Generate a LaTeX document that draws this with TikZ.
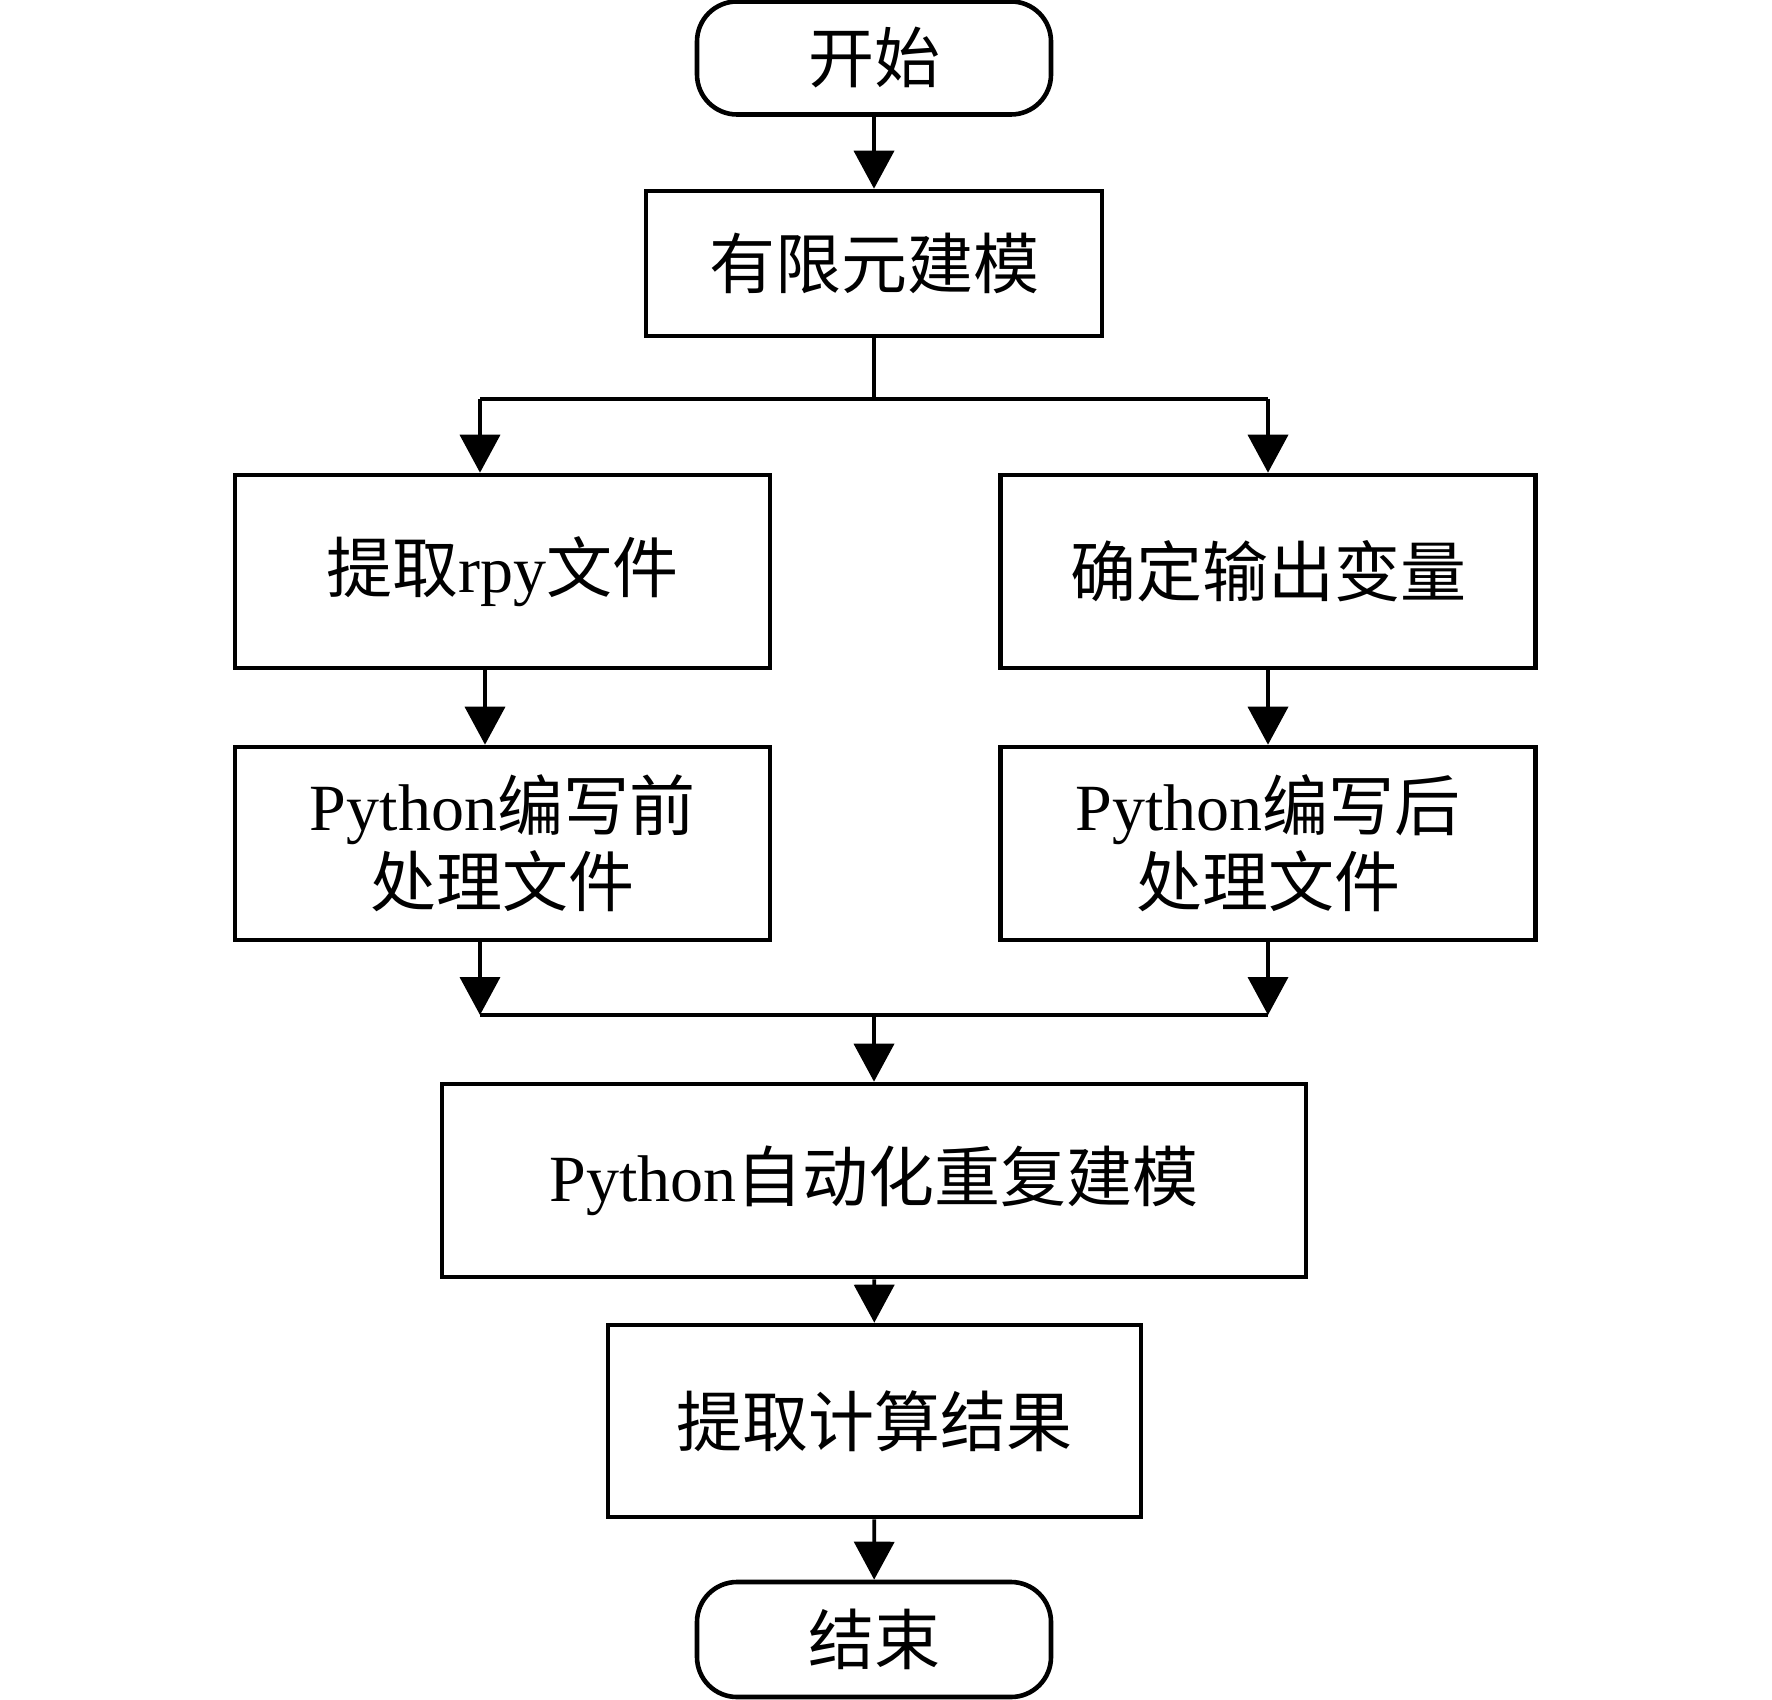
\documentclass[tikz,border=0pt]{standalone}
\usepackage{fontspec}
\setmainfont{Liberation Serif}
\newfontfamily\cjk{Noto Sans CJK SC}
\usetikzlibrary{arrows.meta}
\newcommand{\zh}[1]{{\cjk #1}}
\begin{document}
\begin{tikzpicture}[x=0.5pt,y=-0.5pt,
  box/.style={draw,line width=2.3pt,inner sep=0pt,align=center,
    font=\fontsize{33}{38}\selectfont},
  term/.style={box,rounded corners=20pt},
  conn/.style={line width=1.9pt},
  arr/.style={conn,-{Triangle[width=20pt,length=19pt]}}]
\useasboundingbox (0,0) rectangle (1772,1700);
\node[term,minimum width=177pt,minimum height=56.5pt] (start) at (874,58) {\zh{开始}};
\node[box,minimum width=228pt,minimum height=72.5pt] (fem) at (874,263.5) {\zh{有限元建模}};
\node[box,minimum width=267.5pt,minimum height=96.5pt] (rpy) at (502.5,571.5) {\zh{提取}rpy\zh{文件}};
\node[box,minimum width=267.5pt,minimum height=96.5pt] (out) at (1268,571.5) {\zh{确定输出变量}};
\node[box,minimum width=267.5pt,minimum height=96.5pt] (pre) at (502.5,843.5) {Python\zh{编写前}\\\zh{处理文件}};
\node[box,minimum width=267.5pt,minimum height=96.5pt] (post) at (1268,843.5) {Python\zh{编写后}\\\zh{处理文件}};
\node[box,minimum width=432pt,minimum height=96.5pt] (auto) at (874,1180.5) {Python\zh{自动化重复建模}};
\node[box,minimum width=266.5pt,minimum height=96pt] (res) at (874.5,1421) {\zh{提取计算结果}};
\node[term,minimum width=177pt,minimum height=57.5pt] (end) at (874,1639.5) {\zh{结束}};
\coordinate (split) at (874,399);
\coordinate (splitL) at (480,399);
\coordinate (splitR) at (1268,399);
\coordinate (mergeL) at (480,1015);
\coordinate (mergeR) at (1268,1015);
\coordinate (mergeC) at (874,1015);
\draw[arr] (start) -- (fem);
\draw[conn] (fem.south) -- (split);
\draw[conn] (splitL) -- (splitR);
\draw[arr] (splitL) -- (splitL |- rpy.north);
\draw[arr] (splitR) -- (out.north);
\draw[arr] (485,0 |- rpy.south) -- (485,0 |- pre.north);
\draw[arr] (out) -- (post);
\draw[arr] (mergeL |- pre.south) -- (mergeL);
\draw[arr] (post.south) -- (mergeR);
\draw[conn] (mergeL) -- (mergeR);
\draw[arr] (mergeC) -- (auto.north);
\draw[arr] (auto) -- (res);
\draw[arr] (res) -- (end);
\end{tikzpicture}
\end{document}
